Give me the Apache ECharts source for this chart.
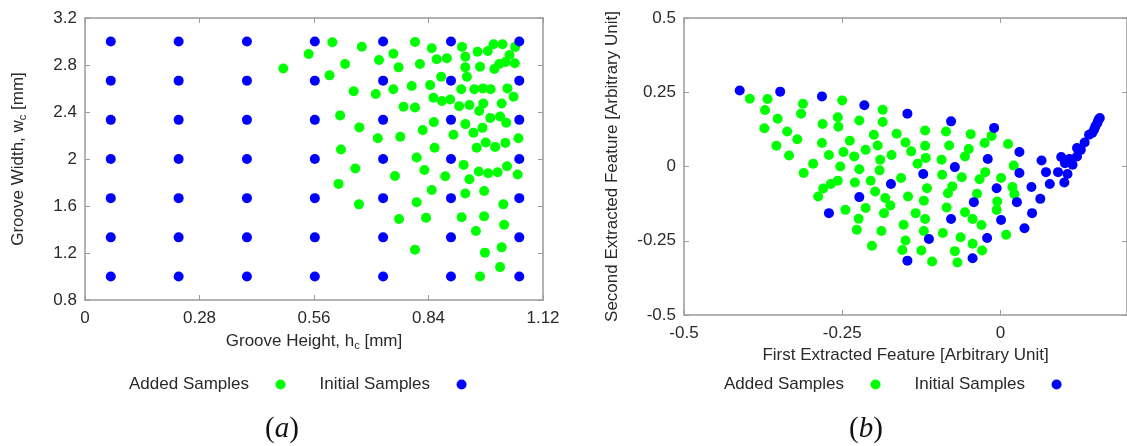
<!DOCTYPE html>
<html><head><meta charset="utf-8">
<script src="https://cdn.jsdelivr.net/npm/echarts/dist/echarts.min.js"></script>
<style>html,body{margin:0;padding:0;background:#fff}#c{width:1127px;height:446px}</style>
</head><body><div id="c"></div>
<script>
// ---- Panel (a): design space ----
const heightLevels = [0.063, 0.229, 0.396, 0.562, 0.729, 0.895, 1.062];
const widthLevels = [1.0, 1.333, 1.667, 2.0, 2.333, 2.667, 3.0];
const addedA = [[0.485,2.77],[0.547,2.894],[0.605,2.993],[0.598,2.712],[0.677,2.956],[0.636,2.808],[0.657,2.576],[0.624,2.371],[0.671,2.269],[0.626,2.081],[0.661,1.919],[0.620,1.788],[0.670,1.614],[0.719,2.843],[0.711,2.553],[0.754,2.896],[0.767,2.78],[0.754,2.593],[0.799,2.621],[0.779,2.444],[0.807,2.439],[0.716,2.177],[0.771,2.189],[0.811,2.013],[0.758,1.856],[0.830,1.907],[0.811,1.632],[0.768,1.489],[0.834,1.501],[0.807,1.228],[0.807,2.996],[0.848,2.942],[0.819,2.808],[0.860,2.849],[0.885,2.857],[0.871,2.70],[0.844,2.629],[0.852,2.521],[0.873,2.493],[0.893,2.507],[0.826,2.246],[0.853,2.314],[0.855,2.095],[0.901,2.206],[0.881,1.853],[0.848,1.736],[0.926,1.950],[0.940,1.828],[0.930,1.706],[0.921,1.504],[0.956,1.387],[0.976,1.728],[0.976,1.512],[0.978,1.203],[0.966,1.0],[0.922,2.954],[0.930,2.871],[0.930,2.780],[0.934,2.70],[0.920,2.593],[0.915,2.450],[0.940,2.459],[0.930,2.297],[0.950,2.223],[0.972,2.265],[0.958,2.095],[0.980,2.14],[1.003,2.103],[1.028,2.137],[1.060,2.177],[0.963,1.893],[0.986,1.879],[1.009,1.887],[1.032,1.939],[1.058,1.868],[1.023,1.614],[1.025,1.441],[1.019,1.248],[1.015,1.08],[0.960,2.913],[0.985,2.919],[0.999,2.976],[1.021,2.976],[1.052,2.954],[1.038,2.885],[0.966,2.786],[1.001,2.766],[1.013,2.808],[1.028,2.826],[1.051,2.815],[0.952,2.593],[0.973,2.601],[0.992,2.593],[1.033,2.601],[1.048,2.530],[0.964,2.408],[0.974,2.473],[1.019,2.473],[0.991,2.350],[1.015,2.362],[1.030,2.308]];

// ---- Panel (b): extracted features ----
const initialB = [[-0.412,0.256],[-0.348,0.252],[-0.282,0.236],[-0.215,0.206],[-0.147,0.178],[-0.078,0.152],[-0.010,0.130],[0.030,0.049],[-0.020,0.025],[-0.072,-0.002],[-0.122,-0.025],[-0.173,-0.059],[-0.223,-0.103],[-0.271,-0.157],[-0.006,-0.073],[0.030,-0.022],[-0.042,-0.120],[-0.078,-0.177],[0.001,-0.180],[0.026,-0.120],[-0.113,-0.244],[-0.021,-0.241],[-0.147,-0.317],[-0.044,-0.309],[0.049,-0.069],[0.050,-0.157],[0.038,-0.208],[0.063,-0.109],[0.065,0.020],[0.072,-0.019],[0.078,-0.059],[0.091,-0.019],[0.096,0.032],[0.101,-0.054],[0.106,-0.025],[0.109,0.025],[0.114,0.006],[0.102,0.011],[0.121,0.062],[0.121,0.034],[0.127,0.056],[0.133,0.081],[0.140,0.107],[0.145,0.113],[0.148,0.124],[0.150,0.135],[0.153,0.146],[0.155,0.157],[0.157,0.163]];
const addedB = [[-0.396,0.228],[-0.368,0.227],[-0.372,0.19],[-0.352,0.161],[-0.373,0.129],[-0.337,0.118],[-0.354,0.07],[-0.321,0.092],[-0.334,0.037],[-0.312,0.211],[-0.315,0.178],[-0.281,0.143],[-0.282,0.079],[-0.296,0.009],[-0.311,-0.022],[-0.271,0.039],[-0.257,0.166],[-0.256,0.134],[-0.250,0.222],[-0.238,0.087],[-0.248,0.049],[-0.253,0.0],[-0.231,0.034],[-0.223,-0.009],[-0.223,0.155],[-0.257,-0.048],[-0.268,-0.059],[-0.280,-0.074],[-0.288,-0.101],[-0.230,-0.054],[-0.245,-0.146],[-0.224,-0.176],[-0.227,-0.213],[-0.213,-0.140],[-0.213,0.056],[-0.186,0.191],[-0.186,0.150],[-0.200,0.107],[-0.164,0.110],[-0.194,0.071],[-0.190,0.023],[-0.172,0.039],[-0.150,0.081],[-0.141,0.051],[-0.119,0.121],[-0.119,0.070],[-0.131,0.009],[-0.118,0.029],[-0.191,-0.013],[-0.205,-0.048],[-0.157,-0.039],[-0.198,-0.084],[-0.182,-0.106],[-0.174,-0.131],[-0.184,-0.157],[-0.188,-0.217],[-0.203,-0.267],[-0.146,-0.101],[-0.134,-0.157],[-0.121,-0.115],[-0.119,-0.177],[-0.121,-0.217],[-0.153,-0.196],[-0.150,-0.249],[-0.155,-0.281],[-0.125,-0.283],[-0.108,-0.320],[-0.116,-0.073],[-0.092,-0.028],[-0.093,0.023],[-0.086,0.118],[-0.081,0.071],[-0.076,-0.067],[-0.083,-0.090],[-0.085,-0.138],[-0.091,-0.224],[-0.072,-0.285],[-0.068,-0.323],[-0.063,-0.238],[-0.061,-0.036],[-0.056,-0.154],[-0.056,0.034],[-0.050,0.059],[-0.047,0.109],[-0.037,-0.092],[-0.044,-0.177],[-0.030,-0.197],[-0.044,-0.260],[-0.029,-0.283],[-0.033,-0.043],[-0.024,-0.019],[-0.025,0.079],[-0.014,0.103],[0.012,0.076],[0.021,0.003],[0.001,-0.039],[0.019,-0.069],[0.022,-0.093],[-0.005,-0.118],[-0.006,-0.146],[0.009,-0.230]];

const seriesNames = ['Added Samples', 'Initial Samples'];
const panelLabels = ['a', 'b'];

// full-factorial initial grid of panel (a), from the read levels
const initialA = [];
heightLevels.forEach(h => widthLevels.forEach(w => initialA.push([h, w])));

const FONT = '"Liberation Sans", Arial, Helvetica, sans-serif';
const TXT = '#2a2a2a';
const FRAME = '#9a9a9a';
const GREEN = '#00ff00', BLUE = '#0000ff';

function xAx(grid, min, max, iv, pos, name, gap, extraLabel) {
  return {
    gridIndex: grid, type: 'value', min: min, max: max, interval: iv, position: pos,
    axisLine: {show: true, onZero: false, lineStyle: {color: FRAME, width: 1.5}},
    axisTick: {show: true, inside: true, length: 5, lineStyle: {color: FRAME, width: 1}},
    axisLabel: Object.assign({show: pos === 'bottom', margin: 10, fontSize: 17, color: TXT, fontFamily: FONT}, extraLabel || {}),
    splitLine: {show: false},
    name: name, nameLocation: 'middle', nameGap: gap,
    nameTextStyle: {fontSize: 17, color: TXT, fontFamily: FONT,
      rich: {t: {fontSize: 17, color: TXT, fontFamily: FONT}, s: {fontSize: 11, color: TXT, fontFamily: FONT, padding: [9, 0, 0, 0]}}}
  };
}
function yAx(grid, min, max, iv, pos, name, gap) {
  return {
    gridIndex: grid, type: 'value', min: min, max: max, interval: iv, position: pos,
    axisLine: {show: true, onZero: false, lineStyle: {color: FRAME, width: 1.5}},
    axisTick: {show: true, inside: true, length: 5, lineStyle: {color: FRAME, width: 1}},
    axisLabel: {show: pos === 'left', margin: 8, fontSize: 17, color: TXT, fontFamily: FONT},
    splitLine: {show: false},
    name: name, nameLocation: 'middle', nameGap: gap,
    nameTextStyle: {fontSize: 17, color: TXT, fontFamily: FONT,
      rich: {t: {fontSize: 17, color: TXT, fontFamily: FONT}, s: {fontSize: 11, color: TXT, fontFamily: FONT, padding: [9, 0, 0, 0]}}}
  };
}

function legend(left) {
  return {
    left: left, top: 376, padding: 0, orient: 'horizontal', align: 'right', icon: 'circle',
    itemWidth: 53, itemHeight: 10, itemGap: 34, selectedMode: false,
    textStyle: {fontSize: 17, color: TXT, fontFamily: FONT},
    data: seriesNames
  };
}

function panelTag(letter, x) {
  return {
    type: 'text', x: x, y: 429, silent: true,
    style: {
      text: '{p|(}{i|' + letter + '}{p|)}', align: 'center', verticalAlign: 'middle',
      rich: {
        p: {fontSize: 29, fontFamily: '"Liberation Serif", "DejaVu Serif", serif', fill: '#111', color: '#111'},
        i: {fontSize: 29, fontStyle: 'italic', fontFamily: '"Liberation Serif", "DejaVu Serif", serif', fill: '#111', color: '#111'}
      }
    }
  };
}

const chart = echarts.init(document.getElementById('c'), null, {renderer: 'canvas'});
chart.setOption({
  animation: false,
  backgroundColor: '#fff',
  grid: [
    {left: 85, top: 18, width: 458, height: 282},
    {left: 684, top: 18, width: 449.5, height: 297}
  ],
  xAxis: [
    xAx(0, 0, 1.12, 0.28, 'bottom', '{t|Groove Height, h}{s|c}{t| [mm]}', 31),
    xAx(0, 0, 1.12, 0.28, 'top', ''),
    xAx(1, -0.5, 0.2, 0.25, 'bottom', 'First Extracted Feature [Arbitrary Unit]', 32, {showMaxLabel: false}),
    xAx(1, -0.5, 0.2, 0.25, 'top', '')
  ],
  yAxis: [
    yAx(0, 0.8, 3.2, 0.4, 'left', '{t|Groove Width, w}{s|c}{t| [mm]}', 57),
    yAx(0, 0.8, 3.2, 0.4, 'right', ''),
    yAx(1, -0.5, 0.5, 0.25, 'left', 'Second Extracted Feature [Arbitrary Unit]', 63),
    yAx(1, -0.5, 0.5, 0.25, 'right', '')
  ],
  legend: [legend(129), legend(724)],
  series: [
    {type: 'scatter', name: seriesNames[0], xAxisIndex: 0, yAxisIndex: 0, data: addedA, symbolSize: 10, itemStyle: {color: GREEN, opacity: 1}},
    {type: 'scatter', name: seriesNames[1], xAxisIndex: 0, yAxisIndex: 0, data: initialA, symbolSize: 10, itemStyle: {color: BLUE, opacity: 1}},
    {type: 'scatter', name: seriesNames[0], xAxisIndex: 2, yAxisIndex: 2, data: addedB, symbolSize: 10, itemStyle: {color: GREEN, opacity: 1}},
    {type: 'scatter', name: seriesNames[1], xAxisIndex: 2, yAxisIndex: 2, data: initialB, symbolSize: 10, itemStyle: {color: BLUE, opacity: 1}}
  ],
  graphic: [panelTag(panelLabels[0], 282), panelTag(panelLabels[1], 866)]
});
</script></body></html>
